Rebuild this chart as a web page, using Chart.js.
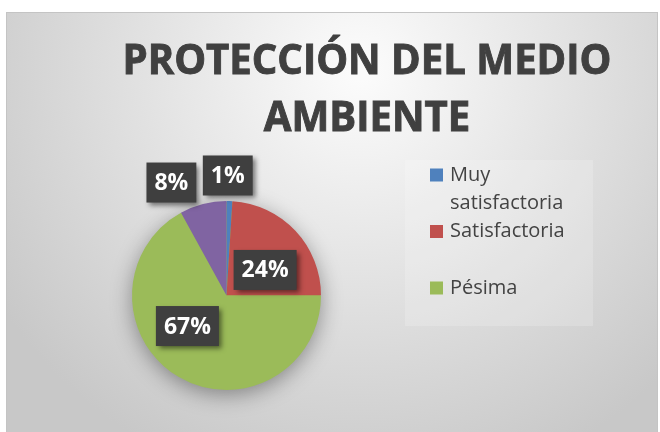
<!DOCTYPE html>
<html lang="es">
<head>
<meta charset="UTF-8">
<title>Protección del medio ambiente</title>
<script src="https://cdn.jsdelivr.net/npm/chart.js"></script>
<style>
  body { margin: 0; background: #fff; }
  canvas { display: block; }
</style>
</head>
<body>
<canvas id="myChart" width="660" height="432"></canvas>
<script>
// datos
const titleLines = ['PROTECCIÓN DEL MEDIO', 'AMBIENTE'];
const labels = ['Muy satisfactoria', 'Satisfactoria', 'Pésima', 'Regular'];
const values = [1, 24, 67, 8];
const colors = ['#4F81BD', '#C0504D', '#9BBB59', '#8064A2'];

// la leyenda original solo muestra las tres primeras entradas
const legendCount = 3;

// colocacion de las etiquetas (fraccion del radio, giro en grados)
const labelPlace = [
  { r: 1.27, shift: -1.2 },
  { r: 0.49, shift: 9.7 },
  { r: 0.525, shift: 21.4 },
  { r: 1.33, shift: -11.6 }
];

const FONT = '"Open Sans", "Liberation Sans", sans-serif';

const background = {
  id: 'background',
  beforeDraw(chart) {
    const ctx = chart.ctx;
    ctx.save();
    ctx.fillStyle = '#ffffff';
    ctx.fillRect(0, 0, chart.width, chart.height);
    const g = ctx.createRadialGradient(360, 70, 10, 360, 70, 430);
    g.addColorStop(0, '#fbfbfb');
    g.addColorStop(0.45, '#e4e4e4');
    g.addColorStop(1, '#c8c8c8');
    ctx.fillStyle = g;
    ctx.fillRect(7, 12, 650, 420);
    ctx.strokeStyle = '#c4c4c4';
    ctx.lineWidth = 1;
    ctx.strokeRect(6.5, 12.5, 651, 421);

    // titulo (Calibri es estrecha: se comprime en horizontal)
    ctx.fillStyle = '#404040';
    ctx.strokeStyle = '#404040';
    ctx.lineWidth = 0.9;
    ctx.font = 'bold 41px ' + FONT;
    ctx.textAlign = 'center';
    ctx.textBaseline = 'alphabetic';
    const sx = 489 / ctx.measureText(titleLines[0]).width;
    titleLines.forEach((t, i) => {
      ctx.save();
      ctx.translate(367, 74 + i * 57);
      ctx.scale(sx, 1);
      ctx.fillText(t, 0, 0);
      ctx.strokeText(t, 0, 0);
      ctx.restore();
    });

    // leyenda
    ctx.fillStyle = 'rgba(255,255,255,0.18)';
    ctx.fillRect(405, 160, 188, 166);
    ctx.font = '20px ' + FONT;
    ctx.textAlign = 'left';
    ctx.textBaseline = 'middle';
    for (let i = 0; i < legendCount; i++) {
      const y = 175 + i * 56.5;
      ctx.fillStyle = colors[i];
      ctx.fillRect(430, y - 6.5, 13, 13);
      // partir la etiqueta si no cabe
      const words = labels[i].split(' ');
      const lines = [];
      let cur = '';
      words.forEach(w => {
        const test = cur ? cur + ' ' + w : w;
        if (cur && ctx.measureText(test).width > 140) {
          lines.push(cur);
          cur = w;
        } else {
          cur = test;
        }
      });
      lines.push(cur);
      ctx.fillStyle = '#434343';
      lines.forEach((l, j) => ctx.fillText(l, 450, y + j * 28));
    }
    ctx.restore();
  },
  beforeDatasetsDraw(chart) {
    const arc = chart.getDatasetMeta(0).data[0];
    if (!arc) return;
    const ctx = chart.ctx;
    ctx.save();
    ctx.shadowColor = 'rgba(0,0,0,0.4)';
    ctx.shadowBlur = 22;
    ctx.shadowOffsetY = 5;
    ctx.fillStyle = '#9BBB59';
    ctx.beginPath();
    ctx.arc(arc.x, arc.y, arc.outerRadius - 1, 0, Math.PI * 2);
    ctx.fill();
    ctx.restore();
  }
};

const dataLabels = {
  id: 'dataLabels',
  afterDatasetsDraw(chart) {
    const ctx = chart.ctx;
    const meta = chart.getDatasetMeta(0);
    ctx.save();
    ctx.font = 'bold 23px ' + FONT;
    ctx.textAlign = 'center';
    ctx.textBaseline = 'middle';
    meta.data.forEach((el, i) => {
      const p = el.getProps(['x', 'y', 'startAngle', 'endAngle', 'outerRadius'], true);
      const a = (p.startAngle + p.endAngle) / 2 + labelPlace[i].shift * Math.PI / 180;
      const cx = p.x + Math.cos(a) * p.outerRadius * labelPlace[i].r;
      const cy = p.y + Math.sin(a) * p.outerRadius * labelPlace[i].r;
      const txt = values[i] + '%';
      const w = ctx.measureText(txt).width + 16;
      const h = 40;
      ctx.save();
      ctx.shadowColor = 'rgba(0,0,0,0.5)';
      ctx.shadowBlur = 5;
      ctx.shadowOffsetX = 3;
      ctx.shadowOffsetY = 3;
      ctx.fillStyle = '#3f3f3f';
      ctx.fillRect(cx - w / 2, cy - h / 2, w, h);
      ctx.restore();
      ctx.fillStyle = '#ffffff';
      ctx.fillText(txt, cx, cy + 1);
    });
    ctx.restore();
  }
};

const ctx = document.getElementById('myChart').getContext('2d');
const myChart = new Chart(ctx, {
  type: 'pie',
  data: {
    labels: labels,
    datasets: [{
      data: values,
      backgroundColor: colors,
      borderWidth: 0
    }]
  },
  options: {
    responsive: false,
    animation: false,
    layout: {
      padding: { left: 132, right: 339, top: 201, bottom: 42 }
    },
    plugins: {
      legend: { display: false },
      title: { display: false },
      tooltip: { enabled: false }
    }
  },
  plugins: [background, dataLabels]
});
</script>
</body>
</html>
